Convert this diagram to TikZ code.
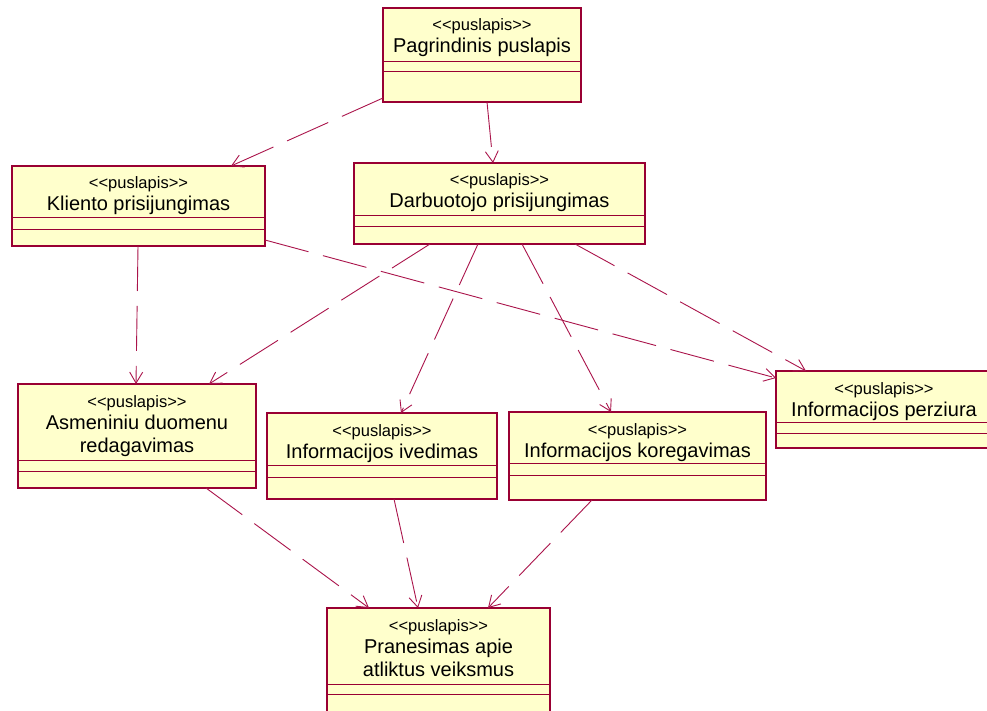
\documentclass[tikz,border=0pt]{standalone}
\usepackage{fontspec}
\setmainfont{Liberation Sans}
\usetikzlibrary{arrows.meta,calc}
\definecolor{boxfill}{RGB}{255,255,204}
\definecolor{boxline}{RGB}{153,0,51}
\definecolor{linkc}{RGB}{170,20,75}
\tikzset{
  classbox/.style={draw=boxline, fill=boxfill, line width=1.2pt, rectangle,
    inner sep=0pt, outer sep=0pt, anchor=north west},
  sepline/.style={draw=boxline, line width=0.9pt},
  stereo/.style={font=\fontsize{16.5}{18}\selectfont, anchor=base, inner sep=0pt},
  cname/.style={font=\fontsize{20}{23}\selectfont, anchor=base, inner sep=0pt},
  dep/.style={draw=linkc, line width=0.9pt, dash pattern=on 45pt off 15pt,
    -{Straight Barb[length=11pt,width=13pt,line width=0.9pt]}},
}
% page class: name, left, top, right, bottom, first separator, second separator, title
\newcommand\pagebox[8]{%
  \node[classbox, minimum width={(#4)-(#2)}, minimum height={(#5)-(#3)}] (#1) at (#2,#3) {};
  \draw[sepline] (#2,#6) -- (#4,#6) (#2,#7) -- (#4,#7);
  \node[stereo] (#1-st) at ({((#2)+(#4))/2},{(#3)+23}) {<{}<puslapis>{}>};
  \node[cname] (#1-nm) at ({((#2)+(#4))/2},{(#3)+45}) {#8};
}
\begin{document}
\begin{tikzpicture}[x=1pt,y=-1pt]
  \path[use as bounding box, fill=white] (0,0) rectangle (987,711);

  \pagebox{P}{383}{8}{581}{102}{61}{71}{Pagrindinis puslapis}
  \pagebox{K}{12}{166}{265}{246}{217}{229}{Kliento prisijungimas}
  \pagebox{D}{354}{163}{645}{244}{215}{226}{Darbuotojo prisijungimas}
  \pagebox{A}{18}{384}{256}{488}{460}{471}{Asmeniniu duomenu}
  \node[cname] (A-nm2) at ($(A-nm.base)+(0,23)$) {redagavimas};
  \pagebox{I}{267}{413}{497}{499}{465}{477}{Informacijos ivedimas}
  \pagebox{R}{509}{412}{766}{500}{463}{475}{Informacijos koregavimas}
  \pagebox{V}{776}{371}{992}{448}{422}{433}{Informacijos perziura}
  \pagebox{N}{327}{608}{550}{730}{684}{694}{Pranesimas apie}
  \node[cname] (N-nm2) at ($(N-nm.base)+(0,23)$) {atliktus veiksmus};

  % navigation dependencies
  \draw[dep] ($(P.south west)+(0,-4)$) -- ($(K.north west)+(219,0)$);
  \draw[dep] ($(P.south west)+(104,0)$) -- ($(D.north west)+(139,0)$);
  \draw[dep] ($(K.south west)+(126,0)$) -- ($(A.north west)+(118,0)$);
  \draw[dep] ($(K.south east)+(0,-6)$) -- ($(V.north west)+(0,7)$);
  \draw[dep] ($(D.south west)+(76,0)$) -- ($(A.north west)+(191,0)$);
  \draw[dep] ($(D.south west)+(124,0)$) -- ($(I.north west)+(134,0)$);
  \draw[dep] ($(D.south west)+(168,0)$) -- ($(R.north west)+(102,0)$);
  \draw[dep] ($(D.south west)+(221,0)$) -- ($(V.north west)+(30,0)$);
  \draw[dep] ($(A.south west)+(188,0)$) -- ($(N.north west)+(42,0)$);
  \draw[dep] ($(I.south west)+(127,0)$) -- ($(N.north west)+(91,0)$);
  \draw[dep] ($(R.south west)+(83,0)$) -- ($(N.north west)+(161,0)$);
\end{tikzpicture}
\end{document}
